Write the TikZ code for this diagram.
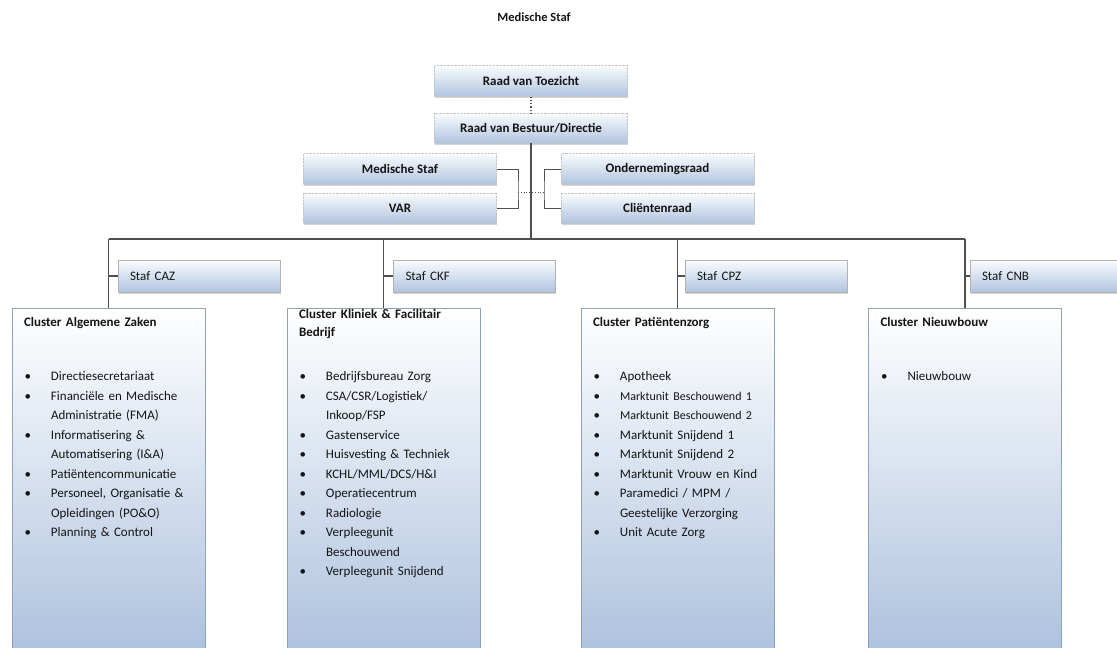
\documentclass[tikz,border=0pt]{standalone}
\usepackage{fontspec}
\setmainfont{Carlito}
\usetikzlibrary{calc,shadows}

\definecolor{boxtop}{HTML}{FAFCFE}
\definecolor{boxbot}{HTML}{B0C4DF}
\definecolor{clmid}{HTML}{E4EBF5}
\definecolor{clbot}{HTML}{ADC2DE}
\definecolor{clline}{HTML}{8EA2BE}
\definecolor{conn}{HTML}{4F4F4F}
\definecolor{ink}{HTML}{141414}

% bullet line with hanging indent
\newcommand{\itm}[1]{\noindent\hangindent=27pt\hangafter=1\makebox[27pt][l]{\hspace{0.5pt}\textbullet}#1\par}

\begin{document}
\begin{tikzpicture}[x=1pt, y=-1pt, text=ink,
    font=\fontsize{13}{15.6}\selectfont,
    raad/.style = {draw=gray!45, densely dotted, top color=boxtop, bottom color=boxbot,
        minimum width=193pt, minimum height=31pt, inner sep=0pt,
        font=\bfseries\fontsize{13}{15.6}\selectfont,
        drop shadow={shadow xshift=0.8pt, shadow yshift=-1.5pt, opacity=0.35}},
    staf/.style = {draw=gray!60, top color=boxtop, bottom color=boxbot,
        text width=138pt, align=left, inner xsep=12pt, minimum height=32pt,
        drop shadow={shadow xshift=0.8pt, shadow yshift=-1.5pt, opacity=0.35}},
    cluster/.style = {draw=clline, top color=white, middle color=clmid, bottom color=clbot,
        minimum width=193pt, minimum height=344pt, inner sep=0pt},
    ctitle/.style = {anchor=base west, inner sep=0pt, text width=178pt, align=left,
        font=\bfseries\fontsize{13}{18}\selectfont},
    items/.style = {anchor=base west, inner sep=0pt, text width=180pt, align=left,
        font=\fontsize{13}{19.5}\selectfont},
    line/.style = {draw=conn, line width=1.1pt}]

\clip (0,0) rectangle (1117,648);

\node[font=\bfseries\fontsize{12.5}{15}\selectfont] (title) at (534,17) {Medische Staf};

% top of the organisation
\node[raad] (rvt) at (531,81) {Raad van Toezicht};
\node[raad, minimum height=30pt] (rvb) at (531,128) {Raad van Bestuur/Directie};
\node[raad] (medstaf) at (400,169) {Medische Staf};
\node[raad, minimum height=30pt] (var) at (400,208) {VAR};
\node[raad] (or) at (657.5,169) {Ondernemingsraad};
\node[raad, minimum height=30pt] (cr) at (657.5,208) {Cliëntenraad};

\coordinate (bar) at (531,239);
\coordinate (lj) at (518,192);
\coordinate (rj) at (544,192);

\draw[conn, line width=1.2pt, dotted] (rvt) -- (rvb);
\draw[line] (rvb.south) -- (bar);
\draw[conn, line width=0.8pt] (medstaf.east) -| (lj) |- (var.east);
\draw[conn, line width=0.8pt] (or.west) -| (rj) |- (cr.west);
\draw[conn, line width=0.8pt, dotted] (lj) -- (lj -| bar);
\draw[conn, line width=0.8pt, dotted] (rj) -- (rj -| bar);

% clusters
\node[cluster] (caz) at (108.5,480) {};
\node[cluster] (ckf) at (383.5,480) {};
\node[cluster] (cpz) at (677.5,480) {};
\node[cluster] (cnb) at (965,480) {};

\node[staf] (stafcaz) at (199,276) {Staf CAZ};
\node[staf] (stafckf) at (474.5,276) {Staf CKF};
\node[staf] (stafcpz) at (766,276) {Staf CPZ};
\node[staf] (stafcnb) at (1051,276) {Staf CNB};

\draw[line] (caz.north |- bar) -- (cnb.north |- bar);
\foreach \c in {caz,ckf,cpz,cnb} {
    \draw[line] (\c.north |- bar) -- (\c.north);
    \draw[line] (staf\c.west -| \c.north) -- (staf\c.west);
}

\node[ctitle] (caztitle) at ($(caz.north west)+(12,19)$) {Cluster Algemene Zaken};
\node[items] (cazlist) at ($(caz.north west)+(12,73)$) {%
    \itm{Directiesecretariaat}
    \itm{Financiële en Medische\newline Administratie (FMA)}
    \itm{Informatisering \&\newline Automatisering (I\&A)}
    \itm{Patiëntencommunicatie}
    \itm{Personeel, Organisatie \&\newline Opleidingen (PO\&O)}
    \itm{Planning \& Control}};

\node[ctitle] (ckftitle) at ($(ckf.north west)+(12,11)$) {Cluster Kliniek \& Facilitair\newline Bedrijf};
\node[items] (ckflist) at ($(ckf.north west)+(12,73)$) {%
    \itm{Bedrijfsbureau Zorg}
    \itm{CSA/CSR/Logistiek/\newline Inkoop/FSP}
    \itm{Gastenservice}
    \itm{Huisvesting \& Techniek}
    \itm{KCHL/MML/DCS/H\&I}
    \itm{Operatiecentrum}
    \itm{Radiologie}
    \itm{Verpleegunit\newline Beschouwend}
    \itm{Verpleegunit Snijdend}};

\node[ctitle] (cpztitle) at ($(cpz.north west)+(12,19)$) {Cluster Patiëntenzorg};
\node[items] (cpzlist) at ($(cpz.north west)+(12,73)$) {%
    \itm{Apotheek}
    \itm{{\fontsize{12}{19.5}\selectfont Marktunit Beschouwend 1}}
    \itm{{\fontsize{12}{19.5}\selectfont Marktunit Beschouwend 2}}
    \itm{Marktunit Snijdend 1}
    \itm{Marktunit Snijdend 2}
    \itm{Marktunit Vrouw en Kind}
    \itm{Paramedici / MPM /\newline Geestelijke Verzorging}
    \itm{Unit Acute Zorg}};

\node[ctitle] (cnbtitle) at ($(cnb.north west)+(12,19)$) {Cluster Nieuwbouw};
\node[items] (cnblist) at ($(cnb.north west)+(12,73)$) {%
    \itm{Nieuwbouw}};

\end{tikzpicture}
\end{document}
